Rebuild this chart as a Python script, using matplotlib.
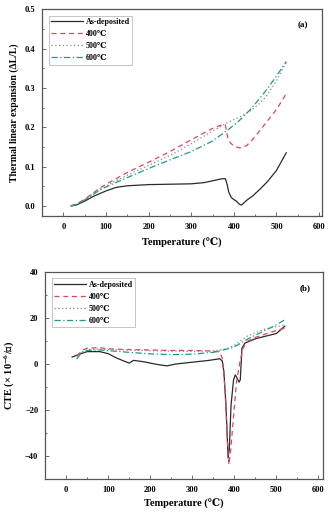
import numpy as np
import matplotlib
matplotlib.use("Agg")
import matplotlib.pyplot as plt
from matplotlib.ticker import MultipleLocator

plt.rcParams['font.family'] = ['Liberation Serif', 'DejaVu Serif']
plt.rcParams['font.weight'] = 'bold'
plt.rcParams['mathtext.fontset'] = 'stix'
plt.rcParams['mathtext.default'] = 'bf'

labels = ['As-deposited', '400℃', '500℃', '600℃']

# (a) thermal linear expansion
t_a0 = [18, 30, 50, 70, 85, 100, 124, 150, 200, 250, 300, 330, 360, 372, 380, 384, 388, 394, 400, 406, 413, 418, 430, 445, 461, 480, 500, 523]
v_a0 = [0.0, 0.002, 0.012, 0.024, 0.031, 0.038, 0.047, 0.051, 0.054, 0.055, 0.056, 0.059, 0.066, 0.069, 0.069, 0.055, 0.035, 0.021, 0.016, 0.012, 0.004, 0.002, 0.014, 0.026, 0.042, 0.063, 0.09, 0.135]
t_a1 = [18, 30, 50, 85, 100, 150, 200, 250, 300, 350, 374, 380, 383, 386, 392, 400, 414, 430, 445, 460, 476, 500, 523]
v_a1 = [0.0, 0.004, 0.017, 0.045, 0.055, 0.085, 0.111, 0.138, 0.168, 0.197, 0.207, 0.206, 0.19, 0.172, 0.16, 0.152, 0.147, 0.153, 0.170, 0.19, 0.212, 0.245, 0.285]
t_a2 = [18, 30, 50, 85, 100, 150, 200, 250, 300, 350, 386, 410, 437, 460, 476, 500, 523]
v_a2 = [0.0, 0.004, 0.016, 0.042, 0.051, 0.078, 0.103, 0.128, 0.158, 0.190, 0.212, 0.224, 0.240, 0.26, 0.278, 0.318, 0.365]
t_a3 = [18, 30, 50, 85, 100, 150, 200, 250, 300, 350, 386, 410, 437, 460, 476, 500, 523]
v_a3 = [0.0, 0.003, 0.015, 0.040, 0.048, 0.072, 0.095, 0.117, 0.138, 0.165, 0.193, 0.214, 0.243, 0.272, 0.294, 0.330, 0.367]

# (b) CTE
t_b0 = [14, 34, 50, 80, 100, 120, 140, 150, 160, 180, 190, 200, 220, 240, 260, 300, 340, 365, 371, 375, 380, 385, 388, 392, 398, 402, 406, 411, 414, 418, 425, 450, 500, 520]
v_b0 = [2.9, 4.4, 5.3, 5.3, 4.4, 2.5, 1.0, 0.3, 1.5, 1.0, 0.7, 0.3, -0.4, -0.9, -0.1, 0.7, 1.5, 2.2, 1.3, -3.3, -18, -41, -37, -18, -7, -4.8, -6, -8, -7, 6.8, 9, 10.9, 13.2, 16.4]
t_b1 = [25, 40, 50, 80, 100, 150, 200, 250, 300, 340, 365, 372, 378, 383, 387, 391, 397, 405, 413, 420, 428, 450, 500, 520]
v_b1 = [3.5, 6.0, 6.8, 7.0, 6.5, 6.2, 6.0, 5.8, 5.8, 5.6, 5.2, 2.0, -12, -32, -44, -38, -25, -8, 0.7, 6.5, 9.5, 11.5, 14.5, 15.5]
t_b2 = [25, 40, 50, 80, 100, 150, 200, 250, 300, 350, 380, 400, 430, 470, 500, 520]
v_b2 = [3.0, 5.5, 6.2, 6.4, 6.2, 6.0, 5.7, 5.5, 5.4, 5.6, 6.5, 8.0, 12.0, 15.0, 16.2, 17.0]
t_b3 = [25, 35, 50, 80, 100, 150, 200, 250, 300, 350, 380, 397, 420, 436, 476, 500, 523]
v_b3 = [2.0, 4.5, 5.8, 6.0, 5.7, 5.0, 4.3, 4.0, 4.2, 5.0, 6.3, 7.1, 9.5, 11.2, 14.8, 17.0, 19.5]

styles = [dict(color='#2a2a2a', ls='-', lw=0.9),
          dict(color='#d9485f', ls=(0, (4, 3)), lw=0.9),
          dict(color='#8a8a8a', ls=(0, (1, 2)), lw=0.9),
          dict(color='#1f9a8a', ls=(0, (5, 2, 1, 2)), lw=0.9)]

fig = plt.figure(figsize=(3.32, 5.12), dpi=100)
ax1 = fig.add_axes([0.127, 0.578, 0.843, 0.404])
ax2 = fig.add_axes([0.136, 0.065, 0.836, 0.404])

for t, v, s, lab in zip([t_a0, t_a1, t_a2, t_a3], [v_a0, v_a1, v_a2, v_a3], styles, labels):
    ax1.plot(t, v, label=lab, **s)
for t, v, s, lab in zip([t_b0, t_b1, t_b2, t_b3], [v_b0, v_b1, v_b2, v_b3], styles, labels):
    ax2.plot(t, v, label=lab, **s)

ax1.set_xlim(-50, 607)
ax1.set_ylim(-0.026, 0.5)
ax1.xaxis.set_major_locator(MultipleLocator(100))
ax1.xaxis.set_minor_locator(MultipleLocator(50))
ax1.yaxis.set_major_locator(MultipleLocator(0.1))
ax1.yaxis.set_minor_locator(MultipleLocator(0.05))
ax1.set_xlabel('Temperature (℃)', fontsize=7.5, fontweight='bold', labelpad=5)
ax1.set_ylabel('Thermal linear expansion (ΔL/L)', fontsize=7, fontweight='bold', labelpad=4)
ax1.text(0.93, 0.925, '(a)', transform=ax1.transAxes, fontsize=6.5, fontweight='bold', ha='center', va='center')

ax2.set_xlim(-50, 610)
ax2.set_ylim(-50, 40)
ax2.xaxis.set_major_locator(MultipleLocator(100))
ax2.xaxis.set_minor_locator(MultipleLocator(50))
ax2.yaxis.set_major_locator(MultipleLocator(20))
ax2.yaxis.set_minor_locator(MultipleLocator(10))
ax2.set_xlabel('Temperature (℃)', fontsize=7.5, fontweight='bold', labelpad=4)
ax2.set_ylabel('CTE (× 10$^{-6}$/℃)', fontsize=7.5, fontweight='bold', labelpad=6)
ax2.text(0.936, 0.922, '(b)', transform=ax2.transAxes, fontsize=6.5, fontweight='bold', ha='center', va='center')

for ax in (ax1, ax2):
    for sp in ax.spines.values():
        sp.set_color('#555555')
        sp.set_linewidth(0.9)
    ax.tick_params(which='both', direction='in', labelsize=6, color='#555555', width=0.6)
    ax.tick_params(which='major', length=3, pad=5)
    ax.tick_params(which='minor', length=1.5)
    for lb in ax.get_xticklabels() + ax.get_yticklabels():
        lb.set_fontweight('bold')
    leg = ax.legend(loc='upper left', frameon=True, fancybox=False,
                    borderpad=0.3, labelspacing=0.5, handlelength=4.0, handletextpad=0.3,
                    borderaxespad=0.8, prop={'weight': 'bold', 'size': 5.8})
    leg.get_frame().set_edgecolor('#aaaaaa')
    leg.get_frame().set_linewidth(0.6)

fig.savefig('out.png', dpi=100)
